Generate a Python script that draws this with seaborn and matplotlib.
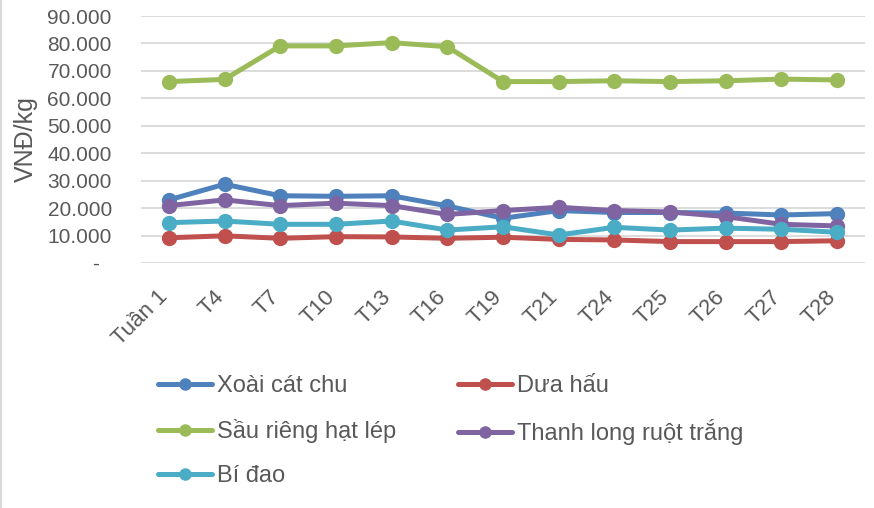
import matplotlib
matplotlib.use("Agg")
import matplotlib.pyplot as plt
from matplotlib.lines import Line2D
import matplotlib.ticker as mticker
import matplotlib.transforms as mtransforms
import seaborn as sns
import pandas as pd

weeks = ["Tuần 1", "T4", "T7", "T10", "T13", "T16", "T19", "T21", "T24", "T25", "T26", "T27", "T28"]
xoai = [23000, 28700, 24500, 24300, 24500, 20800, 16300, 19100, 18400, 18400, 18200, 17500, 18000]
dua_hau = [9200, 9900, 9000, 9600, 9500, 9000, 9400, 8600, 8400, 7800, 7800, 7800, 8100]
sau_rieng = [66100, 66900, 79100, 79100, 80300, 78800, 66100, 66100, 66400, 66100, 66400, 67000, 66700]
thanh_long = [20900, 23000, 20900, 21800, 20900, 17700, 19100, 20300, 19100, 18600, 16900, 14100, 13500]
bi_dao = [14700, 15300, 14100, 14100, 15300, 12000, 13200, 10200, 13000, 12000, 12700, 12300, 11200]

series_names = ["Xoài cát chu", "Dưa hấu", "Sầu riêng hạt lép", "Thanh long ruột trắng", "Bí đao"]
series_values = [xoai, dua_hau, sau_rieng, thanh_long, bi_dao]
colors = ["#4F81BD", "#C0504D", "#9BBB59", "#8064A2", "#4BACC6"]

rows = []
for name, vals in zip(series_names, series_values):
    for w, v in zip(weeks, vals):
        rows.append({"week": w, "price": v, "series": name})
df = pd.DataFrame(rows)

sns.set_style("white")
plt.rcParams["font.family"] = ["Liberation Sans", "DejaVu Sans"]
text_color = "#595959"

fig = plt.figure(figsize=(8.74, 5.08), dpi=100)
ax = fig.add_axes([141 / 874, 1 - 263 / 508, (865 - 141) / 874, (263 - 16) / 508])

sns.lineplot(data=df, x="week", y="price", hue="series", hue_order=series_names,
             palette=colors, marker="o", markersize=11, markeredgewidth=0,
             linewidth=3.6, sort=False, ax=ax, legend=False)
for ln in ax.lines:
    ln.set_markersize(11)
    ln.set_markeredgewidth(0)

ax.set_xlim(-0.5, len(weeks) - 0.5)
ax.set_ylim(0, 90000)
ax.set_yticks(range(0, 90001, 10000))

def fmt(v, pos):
    if v == 0:
        return "-  "
    return f"{int(v):,}".replace(",", ".")
ax.yaxis.set_major_formatter(mticker.FuncFormatter(fmt))

ax.grid(axis="y", color="#D9D9D9", linewidth=1.3)
ax.grid(axis="x", visible=False)
for s in ax.spines.values():
    s.set_visible(False)
ax.tick_params(axis="both", length=0, colors=text_color)
ax.tick_params(axis="y", labelsize=15, pad=21)
ax.tick_params(axis="x", labelsize=16, pad=18)
for lab in ax.get_xticklabels():
    lab.set_rotation(45)
    lab.set_ha("right")
    lab.set_va("center")
    lab.set_rotation_mode("anchor")
    lab.set_transform(mtransforms.offset_copy(lab.get_transform(), fig=fig,
                                              x=-4, y=-6, units="dots"))

ax.set_xlabel("")
ax.set_ylabel("VNĐ/kg", fontsize=18, color=text_color)
ax.yaxis.set_label_coords(-0.143, 0.5)

handles = [Line2D([], [], color=c, marker="o", markersize=9, markeredgewidth=0, linewidth=3.6)
           for c in colors]
order = [0, 2, 4, 1, 3]
leg = fig.legend([handles[i] for i in order], [series_names[i] for i in order],
                 ncol=2, loc="center left", bbox_to_anchor=(158 / 874, 1 - 431 / 508),
                 frameon=False, fontsize=17, handlelength=2.3, handletextpad=0.2,
                 columnspacing=2.6, labelspacing=0.94, borderpad=0, borderaxespad=0)
for t in leg.get_texts():
    t.set_color(text_color)

fig.add_artist(Line2D([0.0015, 0.0015], [0, 1], transform=fig.transFigure,
                      color="#D9D9D9", linewidth=1.5))

fig.savefig("out.png", dpi=100)
